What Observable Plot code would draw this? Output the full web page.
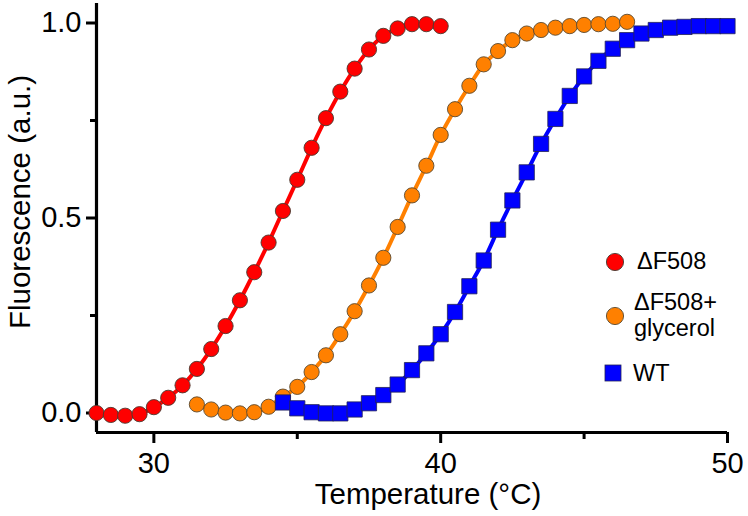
<!DOCTYPE html>
<html>
<head>
<meta charset="utf-8">
<script src="https://cdn.jsdelivr.net/npm/d3@7"></script>
<script src="https://cdn.jsdelivr.net/npm/@observablehq/plot@0.6"></script>
<style>
  body { margin: 0; background: #fff; }
  #wrap { position: relative; width: 748px; height: 516px; font-family: "Liberation Sans", Arial, sans-serif; }
  #legend { position: absolute; left: 0; top: 0; pointer-events: none; }
</style>
</head>
<body>
<div id="wrap"></div>
<script>
// ---- data ----
const redTemp = [28,28.5,29,29.5,30,30.5,31,31.5,32,32.5,33,33.5,34,34.5,35,35.5,36,36.5,37,37.5,38,38.5,39,39.5,40];
const redF    = [0.000,-0.005,-0.007,-0.003,0.015,0.039,0.071,0.113,0.164,0.223,0.289,0.361,0.437,0.518,0.598,0.680,0.756,0.824,0.883,0.932,0.967,0.986,0.997,0.997,0.992];

const orangeTemp = [31.5,32,32.5,33,33.5,34,34.5,35,35.5,36,36.5,37,37.5,38,38.5,39,39.5,40,40.5,41,41.5,42,42.5,43,43.5,44,44.5,45,45.5,46,46.5];
const orangeF    = [0.022,0.009,0.001,-0.001,0.002,0.016,0.042,0.067,0.105,0.148,0.202,0.261,0.327,0.398,0.477,0.558,0.634,0.713,0.779,0.839,0.894,0.928,0.956,0.973,0.982,0.988,0.992,0.995,0.997,0.998,1.003];

const blueTemp = [34.5,35,35.5,36,36.5,37,37.5,38,38.5,39,39.5,40,40.5,41,41.5,42,42.5,43,43.5,44,44.5,45,45.5,46,46.5,47,47.5,48,48.5,49,49.5,50];
const blueF    = [0.027,0.012,0.002,-0.001,-0.001,0.009,0.025,0.046,0.073,0.110,0.153,0.202,0.259,0.325,0.391,0.470,0.545,0.617,0.690,0.754,0.813,0.863,0.903,0.934,0.956,0.973,0.982,0.988,0.990,0.992,0.992,0.992];

const seriesNames = ["ΔF508", "ΔF508+ glycerol", "WT"];
const xMajorTicks = [30, 40, 50];
const xMinorTicks = [35, 45];
const yMajorTicks = [0, 0.5, 1.0];
const yMinorTicks = [0.25, 0.75];
const xLabel = "Temperature (°C)";
const yLabel = "Fluorescence (a.u.)";

const colors = {red: "#ff0000", orange: "#ff8000", blue: "#0000ff"};

const toRows = (t, f) => t.map((d, i) => ({t: d, f: f[i]}));
const red = toRows(redTemp, redF);
const orange = toRows(orangeTemp, orangeF);
const blue = toRows(blueTemp, blueF);

const font = "Liberation Sans, Arial, sans-serif";

const plot = Plot.plot({
  width: 748,
  height: 516,
  marginLeft: 96,
  marginRight: 21,
  marginTop: 3,
  marginBottom: 84,
  style: {fontFamily: font, background: "white", color: "black"},
  x: {domain: [28, 50]},
  y: {domain: [-0.05, 1.05]},
  marks: [
    // axis lines
    Plot.ruleX([28], {stroke: "black", strokeWidth: 3.2}),
    Plot.ruleY([-0.05], {stroke: "black", strokeWidth: 3.2}),
    // y axis
    Plot.axisY({ticks: yMajorTicks, tickSize: 10, tickPadding: 5, strokeWidth: 3, fontSize: 29, tickFormat: d3.format(".1f"), label: null}),
    Plot.axisY({ticks: yMinorTicks, tickSize: 6, strokeWidth: 3, tickFormat: () => "", label: null}),
    // x axis
    Plot.axisX({ticks: xMajorTicks, tickSize: 11, tickPadding: 9, strokeWidth: 3, fontSize: 29, tickFormat: d3.format("d"), label: null}),
    Plot.axisX({ticks: xMinorTicks, tickSize: 7, strokeWidth: 3, tickFormat: () => "", label: null}),
    // axis titles
    Plot.text([yLabel], {frameAnchor: "left", textAnchor: "middle", lineAnchor: "middle", rotate: -90, dx: -76, dy: -16, fontSize: 29.5, fill: "black"}),
    Plot.text([xLabel], {frameAnchor: "bottom", textAnchor: "middle", dx: 16, dy: 71, fontSize: 29.5, fill: "black"}),
    // series: fitted lines + markers
    Plot.line(red, {x: "t", y: "f", stroke: colors.red, strokeWidth: 4, curve: "catmull-rom"}),
    Plot.dot(red, {x: "t", y: "f", r: 7.6, fill: colors.red, stroke: "#4a3a30", strokeWidth: 0.9}),
    Plot.line(orange, {x: "t", y: "f", stroke: colors.orange, strokeWidth: 4, curve: "catmull-rom"}),
    Plot.dot(orange, {x: "t", y: "f", r: 7.6, fill: colors.orange, stroke: "#5a4a30", strokeWidth: 0.9}),
    Plot.line(blue, {x: "t", y: "f", stroke: colors.blue, strokeWidth: 4, curve: "catmull-rom"}),
    Plot.dot(blue, {x: "t", y: "f", r: 8.6, symbol: "square", fill: colors.blue, stroke: "#222255", strokeWidth: 0.8})
  ]
});

const wrap = document.getElementById("wrap");
wrap.appendChild(plot);

// legend overlay
const ns = "http://www.w3.org/2000/svg";
const leg = document.createElementNS(ns, "svg");
leg.setAttribute("id", "legend");
leg.setAttribute("width", 748);
leg.setAttribute("height", 516);
leg.innerHTML = `
  <circle cx="615" cy="262" r="8.6" fill="${colors.red}" stroke="#4a3a30" stroke-width="0.9"/>
  <text x="637" y="269" font-size="23.5" font-family="${font}">${seriesNames[0]}</text>
  <circle cx="615" cy="316" r="8.6" fill="${colors.orange}" stroke="#5a4a30" stroke-width="0.9"/>
  <text x="634" y="310" font-size="23.5" font-family="${font}">${seriesNames[1].split(" ")[0]}</text>
  <text x="634" y="336" font-size="23.5" font-family="${font}">${seriesNames[1].split(" ")[1]}</text>
  <rect x="605" y="365" width="16" height="16" fill="${colors.blue}" stroke="#222255" stroke-width="0.8"/>
  <text x="633" y="381" font-size="23.5" font-family="${font}">${seriesNames[2]}</text>
`;
wrap.appendChild(leg);
</script>
</body>
</html>
